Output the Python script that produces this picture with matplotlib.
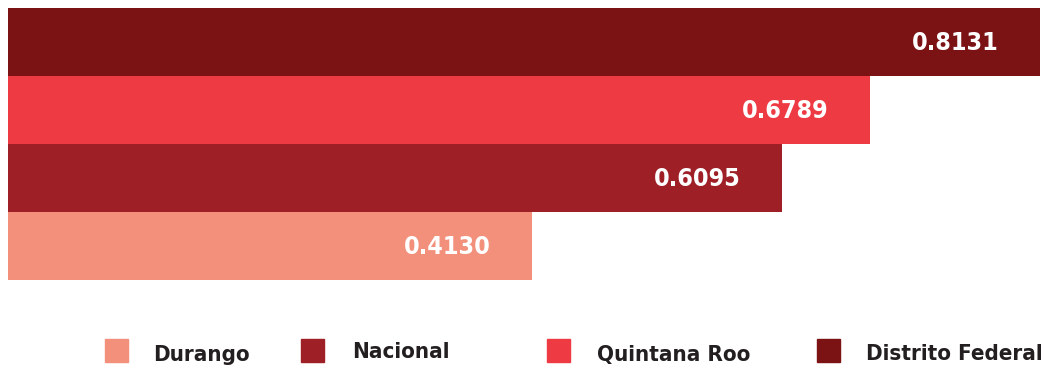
import matplotlib.pyplot as plt
from matplotlib.patches import Rectangle

categories = ['Durango', 'Nacional', 'Quintana Roo', 'Distrito Federal']
values = [0.4130, 0.6095, 0.6789, 0.8131]
colors = ['#F3907C', '#9E1F26', '#EE3B43', '#7B1315']

W, H = 1046, 370
fig = plt.figure(figsize=(W / 100, H / 100), dpi=100)

# bar area: zero at x=8px, bars stacked from y=8px to y=280px
scale = (1040 - 8) / max(values)
ax = fig.add_axes([8 / W, (H - 280) / H, (W - 8) / W, 272 / H])
ax.barh(range(len(values)), values, height=1.0, color=colors)
ax.set_xlim(0, (W - 8) / scale)
ax.set_ylim(-0.5, len(values) - 0.5)
ax.axis('off')

label_font = dict(family='DejaVu Sans', stretch='condensed', weight='bold')
for i, v in enumerate(values):
    ax.text(v - 41 / scale, i - 1.5 / 68, f'{v:.4f}', ha='right', va='center',
            color='white', fontsize=18, **label_font)

# legend row (pixel positions from the top-left corner)
square_x = [105, 301, 547, 817]
text_x = [153, 352, 597, 866]
text_base = [361, 358.5, 360.5, 360.5]
for cat, col, sx, tx, ty in zip(categories, colors, square_x, text_x, text_base):
    fig.patches.append(Rectangle((sx / W, (H - 362) / H), 23 / W, 23 / H,
                                 transform=fig.transFigure, color=col))
    fig.text(tx / W, (H - ty) / H, cat, ha='left', va='baseline',
             color='#231F20', fontsize=16, **label_font)

fig.savefig('out.png', dpi=100)
